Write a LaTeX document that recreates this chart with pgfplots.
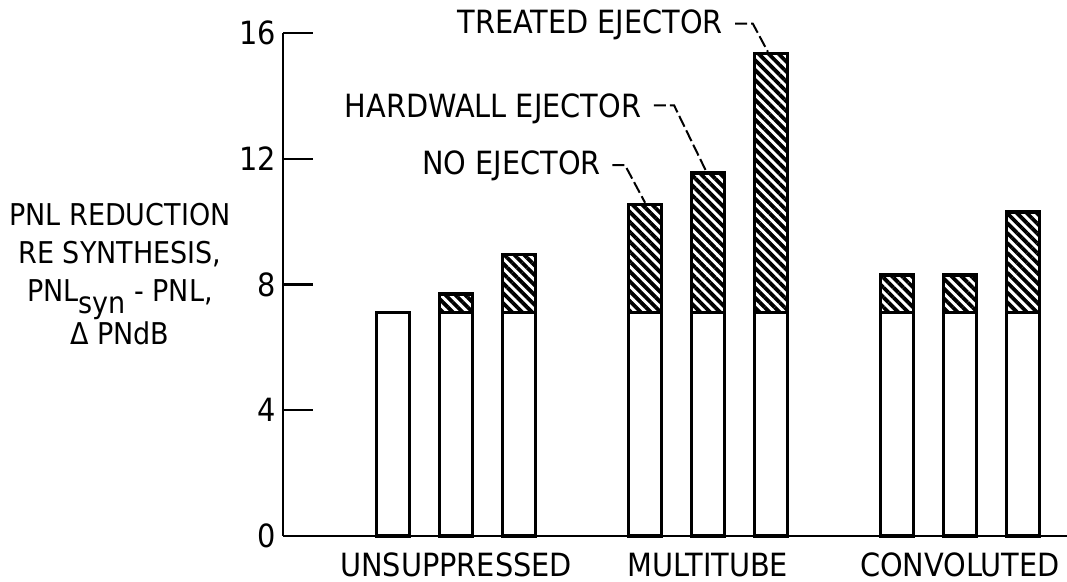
\documentclass[border=0pt]{standalone}
\usepackage{fontspec}
\setmainfont{DejaVu Sans Condensed}
\usepackage{pgfplots}
\pgfplotsset{compat=1.18}
\usetikzlibrary{patterns.meta}

\newcommand{\lbl}{\fontsize{16}{20}\selectfont}

\begin{document}
\begin{tikzpicture}
\begin{axis}[
  scale only axis,
  width=392pt, height=251.5pt,
  xmin=-1.75, xmax=10.7,
  ymin=0, ymax=16,
  axis lines=left,
  axis line style={-, line width=1.3pt},
  ytick={0,4,8,12,16},
  ytick style={line width=1.2pt, black},
  major tick length=15pt,
  tick align=inside,
  xtick={1,5,9},
  xticklabels={UNSUPPRESSED,MULTITUBE,CONVOLUTED},
  xtick style={draw=none},
  ticklabel style={font=\lbl},
  xticklabel style={yshift=-5pt},
  /pgf/number format/assume math mode=true,
  ybar stacked,
  bar width=16.5pt,
  clip=false,
]
% no ejector level (white part)
\addplot[draw=black, line width=1.7pt, fill=white] coordinates {
  (0,7.1) (1,7.1) (2,7.1) (4,7.1) (5,7.1) (6,7.1) (8,7.1) (9,7.1) (10,7.1)
};
% extra reduction from ejector (hatched part)
\addplot[draw=black, line width=1.7pt,
  pattern={Lines[angle=-45,distance=3.5pt,line width=1.9pt]}] coordinates {
  (0,0) (1,0.6) (2,1.85) (4,3.45) (5,4.45) (6,8.25) (8,1.2) (9,1.2) (10,3.2)
};

\node[anchor=east, font=\lbl] at (axis cs:5.35,16.25) {TREATED EJECTOR};
\node[anchor=east, font=\lbl] at (axis cs:4.05,13.6) {HARDWALL EJECTOR};
\node[anchor=east, font=\lbl] at (axis cs:3.41,11.77) {NO EJECTOR};
\draw[line width=1pt, dash pattern=on 6pt off 2pt]
  (axis cs:5.43,16.3) -- (axis cs:5.71,16.3) -- (axis cs:5.95,15.4);
\draw[line width=1pt, dash pattern=on 6pt off 2pt]
  (axis cs:4.14,13.7) -- (axis cs:4.46,13.7) -- (axis cs:4.97,11.6);
\draw[line width=1pt, dash pattern=on 6pt off 2pt]
  (axis cs:3.48,11.8) -- (axis cs:3.68,11.8) -- (axis cs:4.0,10.6);

\node[align=center, font=\fontsize{15}{19}\selectfont] at (axis description cs:-0.208,0.52)
  {PNL REDUCTION\\RE SYNTHESIS,\\PNL\raisebox{-0.4em}{syn} - PNL,\\Δ PNdB};

\coordinate (bl) at (axis description cs:-0.361,-0.0915);
\coordinate (tr) at (axis description cs:1,1.0656);
\end{axis}
\pgfresetboundingbox
\path[use as bounding box] (bl) rectangle (tr);
\end{tikzpicture}
\end{document}
